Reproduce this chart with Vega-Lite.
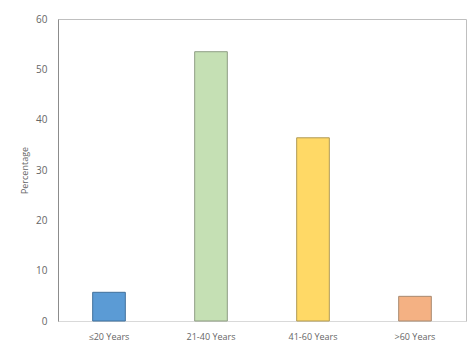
{
  "$schema": "https://vega.github.io/schema/vega-lite/v6.json",
  "autosize": {"type": "none"},
  "padding": {"left": 58, "top": 19, "right": 5, "bottom": 26},
  "width": 408,
  "height": 302,
  "background": "white",
  "config": {
    "view": {"stroke": "#bfbfbf", "strokeWidth": 1},
    "font": "Open Sans"
  },
  "data": {
    "values": [
      {"group": "≤20 Years", "pct": 5.7},
      {"group": "21-40 Years", "pct": 53.5},
      {"group": "41-60 Years", "pct": 36.4},
      {"group": ">60 Years", "pct": 4.9}
    ]
  },
  "mark": {"type": "bar", "strokeWidth": 1},
  "encoding": {
    "x": {
      "field": "group",
      "type": "nominal",
      "sort": null,
      "scale": {"paddingInner": 0.68, "paddingOuter": 0.34},
      "axis": {
        "title": null,
        "labelAngle": 0,
        "labelFontSize": 9,
        "labelColor": "#666666",
        "labelPadding": 11,
        "ticks": false,
        "domainColor": "#d9d9d9"
      }
    },
    "y": {
      "field": "pct",
      "type": "quantitative",
      "scale": {"domain": [0, 60]},
      "axis": {
        "title": "Percentage",
        "titleFontSize": 9,
        "titleFontWeight": "normal",
        "titleColor": "#666666",
        "titlePadding": 6,
        "values": [0, 10, 20, 30, 40, 50, 60],
        "labelFontSize": 10,
        "labelColor": "#666666",
        "labelPadding": 11,
        "ticks": false,
        "grid": false,
        "domainColor": "#8c8c8c"
      }
    },
    "fill": {
      "field": "group",
      "type": "nominal",
      "legend": null,
      "scale": {
        "domain": ["≤20 Years", "21-40 Years", "41-60 Years", ">60 Years"],
        "range": ["#5b9bd5", "#c5e0b4", "#ffd966", "#f4b183"]
      }
    },
    "stroke": {
      "field": "group",
      "type": "nominal",
      "legend": null,
      "scale": {
        "domain": ["≤20 Years", "21-40 Years", "41-60 Years", ">60 Years"],
        "range": ["#41719c", "#8f9d84", "#b09a55", "#a88a70"]
      }
    }
  }
}
